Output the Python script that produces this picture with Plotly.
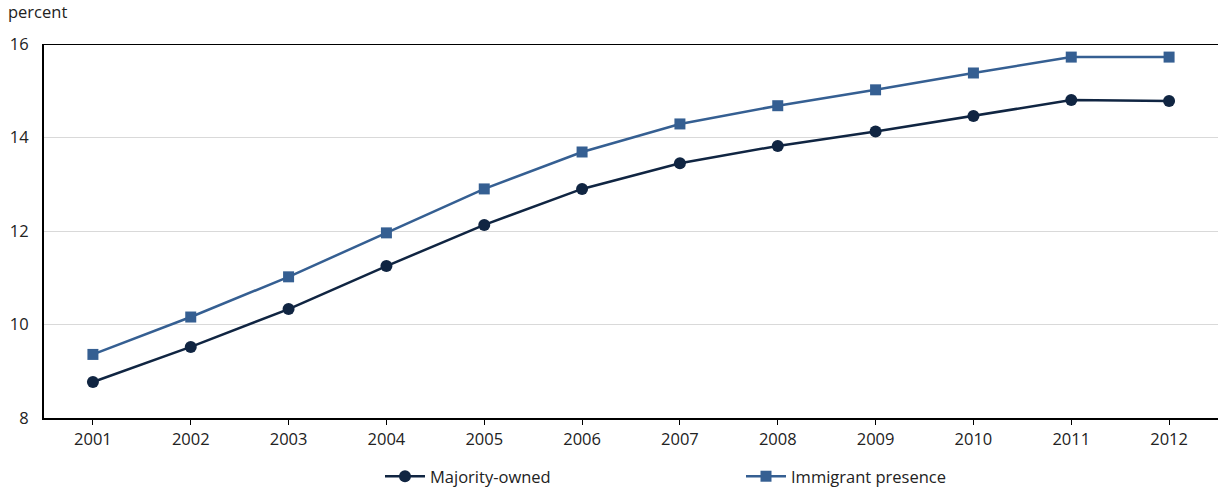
import plotly.graph_objects as go

years = ["2001", "2002", "2003", "2004", "2005", "2006",
         "2007", "2008", "2009", "2010", "2011", "2012"]
majority_owned = [8.77, 9.52, 10.33, 11.25, 12.13, 12.90,
                  13.45, 13.82, 14.13, 14.46, 14.80, 14.78]
immigrant_presence = [9.36, 10.16, 11.02, 11.96, 12.90, 13.69,
                      14.29, 14.68, 15.02, 15.38, 15.72, 15.72]
y_ticks = [8, 10, 12, 14, 16]

NAVY = "#102542"
BLUE = "#355f92"
FONT = "Open Sans"
TEXT = "#222222"
SIZE = 16.5

fig = go.Figure()
fig.add_trace(go.Scatter(
    x=years, y=majority_owned, name="Majority-owned",
    mode="lines+markers",
    line=dict(color=NAVY, width=2.5),
    marker=dict(symbol="circle", size=12, color=NAVY),
))
fig.add_trace(go.Scatter(
    x=years, y=immigrant_presence, name="Immigrant presence",
    mode="lines+markers",
    line=dict(color=BLUE, width=2.5),
    marker=dict(symbol="square", size=11, color=BLUE),
))

# dark rule along the top of the value range
fig.add_shape(type="line", xref="paper", yref="y",
              x0=0, x1=1, y0=16, y1=16,
              line=dict(color="#000000", width=2))

fig.update_layout(
    width=1218, height=494,
    margin=dict(l=44, r=0, t=44, b=76, autoexpand=False),
    paper_bgcolor="white", plot_bgcolor="white",
    font=dict(family=FONT, size=SIZE, color=TEXT),
    showlegend=True,
    legend=dict(orientation="h", x=0.2862, xanchor="left",
                yref="container", y=-0.01, yanchor="bottom",
                entrywidth=306, entrywidthmode="pixels",
                font=dict(family=FONT, size=SIZE, color=TEXT),
                itemwidth=40, tracegroupgap=0, borderwidth=0),
    annotations=[dict(text="percent", xref="paper", yref="paper",
                      x=-0.0325, y=1.0, xanchor="left", yanchor="bottom",
                      yshift=19, showarrow=False,
                      font=dict(family=FONT, size=SIZE, color=TEXT))],
)
fig.update_xaxes(
    type="category", range=[-0.5, 11.5],
    showline=True, linecolor="#000000", linewidth=2,
    ticks="outside", ticklen=5, tickcolor="#000000", tickwidth=1,
    showgrid=False, tickfont=dict(family=FONT, size=SIZE, color=TEXT),
)
fig.update_yaxes(
    range=[8, 16], tickvals=y_ticks,
    showline=True, linecolor="#000000", linewidth=2,
    showgrid=True, gridcolor="#d9d9d9", gridwidth=1,
    zeroline=False, ticks="", ticklabelstandoff=10,
    tickfont=dict(family=FONT, size=SIZE, color=TEXT),
)

fig.write_html("out.html")
